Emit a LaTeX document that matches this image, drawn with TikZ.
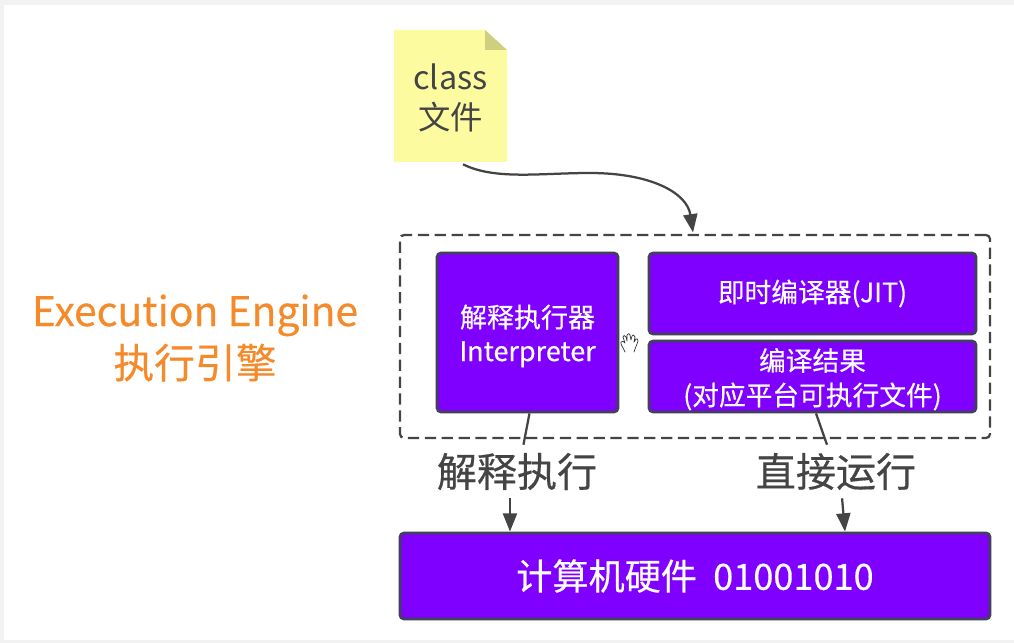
\documentclass[tikz,border=0pt]{standalone}
\usepackage{fontspec}
\setmainfont{Noto Sans CJK SC}
\newfontfamily\heavyfont[FakeBold=0.35]{Noto Sans CJK SC}
\usetikzlibrary{arrows.meta}
\definecolor{boxfill}{HTML}{7F00FF}
\definecolor{boxline}{HTML}{42405A}
\definecolor{darkline}{HTML}{444444}
\definecolor{notefill}{HTML}{FDFBA0}
\definecolor{notefold}{HTML}{CFCF80}
\definecolor{enginetext}{HTML}{F58A2A}
\newcommand{\lowertext}[2]{\raisebox{-#1}{#2}}
\tikzset{
  purplebox/.style={draw=boxline, fill=boxfill, text=white, line width=2pt, rounded corners=3pt, inner sep=0pt, align=center},
  flowarrow/.style={-{Triangle[length=13pt, width=10pt]}, line width=1.6pt, draw=darkline},
  flowline/.style={line width=1.6pt, draw=darkline},
  runlabel/.style={text=darkline, font=\heavyfont\fontsize{28.5}{32}\selectfont, minimum height=1.325cm, inner sep=0pt}
}
\begin{document}
\begin{tikzpicture}[x=0.025cm, y=-0.025cm]
\useasboundingbox (0,0) rectangle (1014,643);
\fill[black!5] (0,0) rectangle (1014,643);
\fill[white] (4,5) rectangle (1014,640);

% the class file note
\fill[notefill] (394,30) -- (485,30) -- (507,50) -- (507,162) -- (394,162) -- cycle;
\fill[notefold] (485,30) -- (507,50) -- (485,50) -- cycle;
\node[inner sep=0pt, minimum width=2.825cm, minimum height=3.3cm, text=darkline, align=center, font=\fontsize{23}{29}\selectfont](N) at (450.5,98) {class\\[-1pt]文件};

\node[inner sep=0pt, text=enginetext, align=center, font=\heavyfont\fontsize{29}{37}\selectfont](E) at (195,338) {Execution Engine\\执行引擎};

% execution engine parts
\node[draw=darkline, dashed, dash pattern=on 8pt off 4pt, line width=1.6pt, rounded corners=3pt, minimum width=14.75cm, minimum height=5.075cm](D) at (695,336.5) {};
\node[purplebox, minimum width=4.525cm, minimum height=3.975cm, font=\heavyfont\fontsize{19.2}{24}\selectfont](I) at (527.5,332.5) {\rule{0pt}{21pt}解释执行器\\Interpreter};
\node[purplebox, minimum width=8.175cm, minimum height=2.025cm, font=\heavyfont\fontsize{19}{24}\selectfont](J) at (812.5,293.5) {\lowertext{3.5pt}{即时编译器(JIT)}};
\node[purplebox, minimum width=8.175cm, minimum height=1.775cm, font=\heavyfont\fontsize{19}{24.5}\selectfont](R) at (812.5,376.5) {\rule{0pt}{20pt}编译结果\\(对应平台可执行文件)};
\node[purplebox, minimum width=14.75cm, minimum height=2.15cm, font=\heavyfont\fontsize{25.7}{30}\selectfont](H) at (695,576) {\lowertext{2pt}{计算机硬件\ \ 01001010}};

\node[runlabel](LI) at (517,471.5) {\lowertext{3pt}{解释执行}};
\node[runlabel](LR) at (836,471.5) {\lowertext{3pt}{直接运行}};

\draw[flowarrow] ([xshift=8.9pt]N.south) .. controls +(32,16) and +(-50,0) .. (590,173) .. controls +(60,0) and +(-6,-40) .. ([xshift=-1.4pt, yshift=1pt]D.north);
\draw[flowline] ([xshift=1.4pt]I.south) -- ([xshift=4.6pt]LI.north);
\draw[flowline] ([xshift=2.5pt]R.south) -- ([xshift=-6.4pt]LR.north);
\draw[flowarrow] ([xshift=-5pt]LI.south) -- ([xshift=-5pt]LI.south |- H.north);
\draw[flowarrow] ([xshift=4.3pt]LR.south) -- ([xshift=6.4pt]LR.south |- H.north);

% mouse pointer
\draw[black!80, line width=0.5pt, line cap=round, line join=round, fill=white] (625,352) .. controls (623,347) and (620,344) .. (621,342) .. controls (622,340) and (624,342) .. (625,343) -- (623,337) .. controls (623,335) and (625,335) .. (626,337) -- (627,341) -- (627,335) .. controls (627,333) and (630,333) .. (630,335) -- (631,340) -- (632,336) .. controls (632,334) and (635,335) .. (635,337) -- (634,342) -- (636,339) .. controls (637,338) and (638,339) .. (638,341) .. controls (637,345) and (635,348) .. (634,352);
\end{tikzpicture}
\end{document}
